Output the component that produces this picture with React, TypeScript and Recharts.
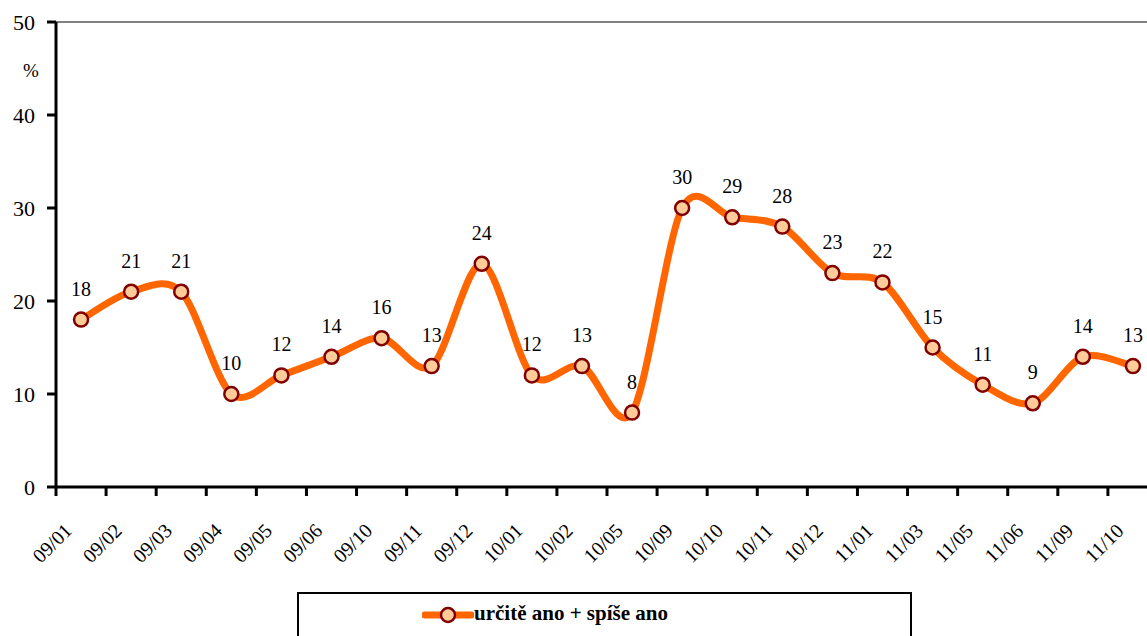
import { LineChart, Line, XAxis, YAxis, LabelList, ReferenceLine } from "recharts";

const categories = [
  "09/01", "09/02", "09/03", "09/04", "09/05", "09/06", "09/10", "09/11",
  "09/12", "10/01", "10/02", "10/05", "10/09", "10/10", "10/11", "10/12",
  "11/01", "11/03", "11/05", "11/06", "11/09", "11/10",
];

const values = [18, 21, 21, 10, 12, 14, 16, 13, 24, 12, 13, 8, 30, 29, 28, 23, 22, 15, 11, 9, 14, 13];

const yTicks = [0, 10, 20, 30, 40, 50];

const seriesName = "určitě ano + spíše ano";

const FONT = "'Times New Roman', Times, 'Liberation Serif', 'Noto Serif', 'DejaVu Serif', serif";
const ORANGE = "#FF6600";

// points sit in the middle of each category band, ticks on the band edges
const data = values.map((v, i) => ({ x: i + 0.5, v }));
const xTicks = categories.map((_, i) => i);

// Excel-style smoothing (cardinal spline)
function excelSmooth(context: any) {
  let pts: number[][] = [];
  const k = 1 / 6.5;
  return {
    areaStart() {},
    areaEnd() {},
    lineStart() {
      pts = [];
    },
    lineEnd() {
      if (!pts.length) return;
      context.moveTo(pts[0][0], pts[0][1]);
      for (let i = 0; i < pts.length - 1; i++) {
        const p0 = pts[i - 1] || pts[i];
        const p1 = pts[i];
        const p2 = pts[i + 1];
        const p3 = pts[i + 2] || p2;
        context.bezierCurveTo(
          p1[0] + (p2[0] - p0[0]) * k,
          p1[1] + (p2[1] - p0[1]) * k,
          p2[0] - (p3[0] - p1[0]) * k,
          p2[1] - (p3[1] - p1[1]) * k,
          p2[0],
          p2[1]
        );
      }
    },
    point(x: number, y: number) {
      pts.push([+x, +y]);
    },
  };
}

function XTick({ x, y, payload }: any) {
  return (
    <g transform={`translate(${x - 4},${y + 45})`}>
      <text
        x={0}
        y={0}
        textAnchor="middle"
        dominantBaseline="central"
        transform="rotate(-45)"
        fontFamily={FONT}
        fontSize={20}
        fill="#000"
      >
        {categories[payload.value]}
      </text>
    </g>
  );
}

function ValueLabel({ x, y, value }: any) {
  return (
    <text x={x} y={y - 24} textAnchor="middle" fontFamily={FONT} fontSize={20} fill="#000">
      {value}
    </text>
  );
}

function PercentLabel({ viewBox }: any) {
  return (
    <text
      x={viewBox.x + viewBox.width - 25}
      y={viewBox.y + 55}
      textAnchor="middle"
      fontFamily={FONT}
      fontSize={19}
      fill="#000"
    >
      %
    </text>
  );
}

export default function App() {
  return (
    <div
      style={{
        position: "absolute",
        left: 0,
        top: 0,
        width: 1147,
        height: 636,
        overflow: "hidden",
        background: "#fff",
        fontFamily: FONT,
      }}
    >
      <LineChart
        width={1170}
        height={636}
        data={data}
        margin={{ top: 22, right: 12, left: 0, bottom: 0 }}
      >
        <ReferenceLine y={50} stroke="#808080" strokeWidth={2} />
        <XAxis
          type="number"
          dataKey="x"
          domain={[0, 22]}
          ticks={xTicks}
          interval={0}
          height={149}
          tick={<XTick />}
          tickSize={9}
          axisLine={{ stroke: "#000", strokeWidth: 3 }}
          tickLine={{ stroke: "#000", strokeWidth: 3 }}
        />
        <YAxis
          domain={[0, 50]}
          ticks={yTicks}
          interval={0}
          width={56}
          tickSize={9}
          tickMargin={12}
          axisLine={{ stroke: "#000", strokeWidth: 3 }}
          tickLine={{ stroke: "#000", strokeWidth: 3 }}
          tick={{ fill: "#000", fontSize: 22, fontFamily: FONT }}
          label={<PercentLabel />}
        />
        <Line
          dataKey="v"
          name={seriesName}
          type={excelSmooth as any}
          stroke={ORANGE}
          strokeWidth={7}
          dot={{ r: 7, fill: "#FFCC99", stroke: "#800000", strokeWidth: 2.5 }}
          activeDot={false}
          isAnimationActive={false}
        >
          <LabelList dataKey="v" content={<ValueLabel />} />
        </Line>
      </LineChart>
      <div
        style={{
          position: "absolute",
          left: 297,
          top: 592,
          width: 615,
          height: 60,
          border: "2px solid #000",
          boxSizing: "border-box",
        }}
      >
        <svg width={52} height={20} style={{ position: "absolute", left: 123, top: 11 }}>
          <line x1={3} y1={10} x2={49} y2={10} stroke={ORANGE} strokeWidth={7} strokeLinecap="round" />
          <circle cx={26} cy={10} r={7} fill="#FFCC99" stroke="#800000" strokeWidth={2.5} />
        </svg>
        <span
          style={{
            position: "absolute",
            left: 175,
            top: 7,
            fontFamily: FONT,
            fontWeight: "bold",
            fontSize: 21,
            lineHeight: "24px",
            whiteSpace: "nowrap",
          }}
        >
          {seriesName}
        </span>
      </div>
    </div>
  );
}
